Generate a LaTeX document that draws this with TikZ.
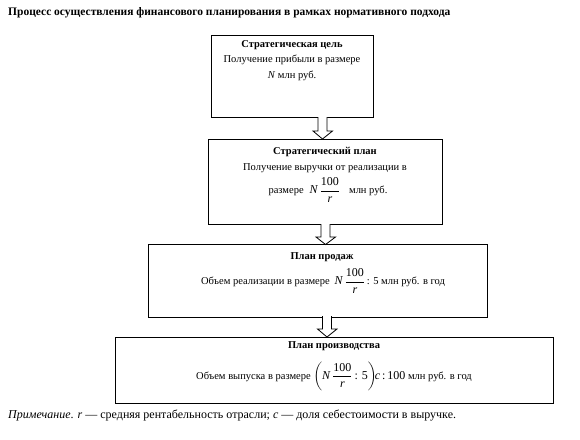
\documentclass[tikz,border=0pt]{standalone}
\usepackage{amsmath}
\usepackage{fontspec}
\setmainfont{Liberation Serif}
\newcommand{\mymath}[1]{{\fontsize{12}{14}\selectfont$#1$}}
\begin{document}
\begin{tikzpicture}[x=1pt,y=1pt,
  box/.style={draw=black,line width=0.9pt,inner sep=0pt},
  txt/.style={font=\fontsize{10.5}{12}\selectfont,inner sep=0pt,anchor=center},
  ttl/.style={font=\fontsize{10.5}{12}\selectfont\bfseries,inner sep=0pt,anchor=center},
  barrow/.style={draw=black,line width=0.8pt,fill=white,line join=miter}]
\useasboundingbox (0,0) rectangle (580,-439);
\node[inner sep=0pt,anchor=west,font=\fontsize{11.5}{13}\selectfont\bfseries] (title) at (8,-13)
  {Процесс осуществления финансового планирования в рамках нормативного подхода};
% boxes
\node[box,minimum width=162,minimum height=82] (b1) at (292,-76) {};
\node[box,minimum width=234,minimum height=85] (b2) at (325,-181.5) {};
\node[box,minimum width=339,minimum height=73] (b3) at (317.5,-280.5) {};
\node[box,minimum width=438,minimum height=66] (b4) at (334,-370) {};
% texts
\node[ttl] (t1) at (292,-45) {Стратегическая цель};
\node[txt] (l1a) at (292,-60) {Получение прибыли в размере};
\node[txt] (l1b) at (292,-76) {\textit{N} млн руб.};
\node[ttl] (t2) at (325,-152) {Стратегический план};
\node[txt] (l2a) at (325,-168) {Получение выручки от реализации в};
\node[txt] (l2b) at (328,-190) {размере\hspace{6pt}\mymath{\textit{N}\,\dfrac{\text{100}}{\textit{r}}}\hspace{9pt}млн руб.};
\node[ttl] (t3) at (322,-257) {План продаж};
\node[txt] (l3a) at (323,-281) {Объем реализации в размере\hspace{5pt}\mymath{\textit{N}\,\dfrac{\text{100}}{\textit{r}}}\,: 5 млн руб. в год};
\node[ttl] (t4) at (334,-346.5) {План производства};
\node[txt] (l4a) at (334,-376.5) {Объем выпуска в размере \smash{\mymath{\biggl(\textit{N}\,\dfrac{\text{100}}{\textit{r}}\text{\,: 5}\biggr)\!\textit{c}\,\text{:\,100}}} млн руб. в год};
% block arrows
\coordinate (a1) at (322.5,-117);
\coordinate (a2) at (325.5,-224);
\coordinate (a3) at (327,-316);
\draw[barrow] (a1) ++(-4.5,0) -- ++(0,-14) -- ++(-5,0) -- (322.5,-139) -- (332.5,-131) -- (327,-131) -- (327,-117);
\draw[barrow] (a2) ++(-4.5,0) -- ++(0,-13) -- ++(-5,0) -- (325.5,-244.5) -- (335.5,-237) -- (330,-237) -- (330,-224);
\draw[barrow] (a3) ++(-4.5,0) -- ++(0,-13) -- ++(-5,0) -- (327,-337) -- (337,-329) -- (331.5,-329) -- (331.5,-316);
\node[inner sep=0pt,anchor=west,font=\fontsize{12}{14}\selectfont] (note) at (8,-415)
  {\textit{Примечание}. \textit{r} — средняя рентабельность отрасли; \textit{c} — доля себестоимости в выручке.};
\end{tikzpicture}
\end{document}
